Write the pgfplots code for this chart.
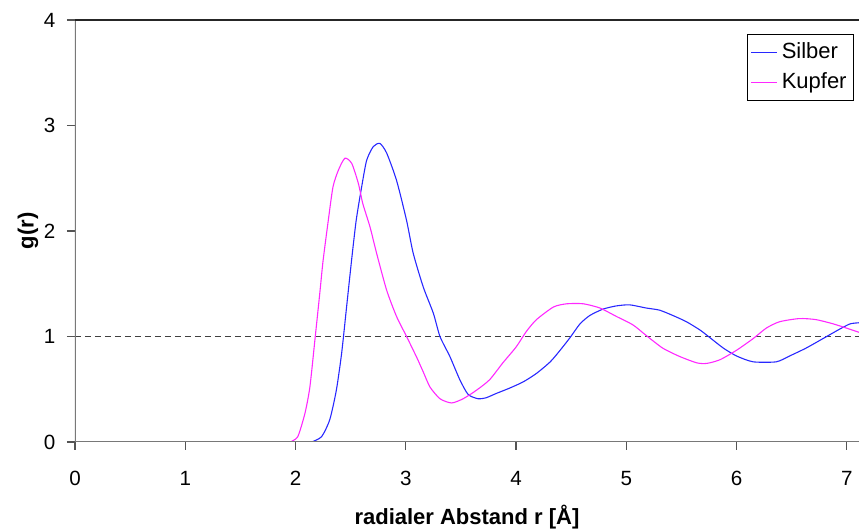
\documentclass[border=0pt]{standalone}
\usepackage{pgfplots}
\pgfplotsset{compat=1.18}
\usepackage{fontspec}
\setmainfont{Liberation Sans}
\definecolor{silber}{RGB}{40,40,255}
\definecolor{kupfer}{RGB}{255,40,255}
\definecolor{axgray}{RGB}{120,120,120}
\begin{document}
\begin{tikzpicture}
\useasboundingbox (-37.5pt,-44pt) rectangle (392pt,221pt);
\begin{axis}[
  at={(0,0)}, anchor=south west,
  scale only axis, width=392pt, height=211pt,
  xmin=0, xmax=7.11, ymin=0, ymax=4,
  xtick={0,1,2,3,4,5,6,7}, ytick={0,1,2,3,4},
  xtick pos=bottom, ytick pos=left,
  tick align=outside, major tick length=4pt,
  tick style={axgray!70!black, line width=0.6pt},
  axis line style={draw=none},
  /pgf/number format/assume math mode=true,
  ticklabel style={font=\fontsize{10.3}{12}\selectfont},
  xticklabel style={yshift=-7pt},
  yticklabel style={xshift=-2.3pt},
  xlabel={\textbf{radialer Abstand r [Å]}},
  ylabel={\textbf{g(r)}},
  label style={font=\fontsize{11}{13}\selectfont},
  xlabel style={at={(axis description cs:0.5,-0.1777)}, anchor=center},
  ylabel style={at={(axis description cs:-0.0600,0.5)}, anchor=center},
  legend style={at={(axis description cs:0.9936,0.968)}, anchor=north east,
    font=\fontsize{11}{13}\selectfont,
    inner xsep=1.5pt, inner ysep=2.5pt, row sep=1.5pt},
  legend cell align=left,
  legend image code/.code={\draw[#1] (0pt,0pt) -- (13pt,0pt);},
]
\addplot[forget plot, black!75, line width=0.6pt, dash pattern=on 3pt off 2pt] coordinates {(0,1) (7.11,1)};
\addplot[draw=silber, line width=0.55pt, smooth, tension=0.4] coordinates {
(2.146,0) (2.236,0.05) (2.31,0.21) (2.37,0.49) (2.418,0.84) (2.463,1.28) (2.508,1.72) (2.55,2.10) (2.60,2.42) (2.645,2.67) (2.705,2.80) (2.765,2.83) (2.826,2.74) (2.916,2.48) (3.007,2.10) (3.067,1.79) (3.158,1.47) (3.25,1.22) (3.31,1.00) (3.40,0.81) (3.49,0.59) (3.566,0.45) (3.656,0.41) (3.73,0.42) (3.82,0.46) (3.94,0.51) (4.065,0.57) (4.185,0.65) (4.31,0.76) (4.40,0.87) (4.49,0.99) (4.58,1.12) (4.67,1.20) (4.79,1.26) (4.91,1.29) (5.03,1.30) (5.18,1.27) (5.30,1.25) (5.42,1.20) (5.545,1.14) (5.67,1.06) (5.757,0.99) (5.88,0.89) (6.00,0.815) (6.15,0.76) (6.36,0.76) (6.48,0.815) (6.63,0.89) (6.80,0.99) (6.935,1.07) (7.03,1.12) (7.11,1.13)
};
\addlegendentry{Silber}
\addplot[draw=kupfer, line width=0.55pt, smooth, tension=0.4] coordinates {
(1.95,0) (2.02,0.05) (2.085,0.27) (2.13,0.52) (2.176,0.97) (2.22,1.41) (2.25,1.72) (2.297,2.10) (2.34,2.42) (2.39,2.58) (2.448,2.69) (2.51,2.64) (2.57,2.45) (2.61,2.26) (2.675,2.04) (2.735,1.79) (2.826,1.44) (2.916,1.19) (3.007,1.00) (3.10,0.80) (3.16,0.66) (3.22,0.52) (3.31,0.41) (3.415,0.37) (3.52,0.41) (3.64,0.49) (3.76,0.59) (3.88,0.75) (4.00,0.90) (4.095,1.05) (4.185,1.16) (4.34,1.28) (4.46,1.31) (4.61,1.31) (4.76,1.27) (4.91,1.19) (5.06,1.11) (5.18,1.01) (5.33,0.89) (5.485,0.81) (5.64,0.75) (5.73,0.745) (5.85,0.78) (6.00,0.87) (6.15,0.98) (6.27,1.08) (6.39,1.14) (6.57,1.17) (6.72,1.16) (6.875,1.12) (6.995,1.08) (7.11,1.04)
};
\addlegendentry{Kupfer}
\draw[axgray, line width=0.75pt] (rel axis cs:0,0) -- (rel axis cs:1,0);
\draw[axgray, line width=0.75pt] (rel axis cs:0,0) -- (rel axis cs:0,1);
\draw[black!85, line width=0.6pt] (rel axis cs:0,1) -- (rel axis cs:1,1);
\end{axis}
\end{tikzpicture}
\end{document}
